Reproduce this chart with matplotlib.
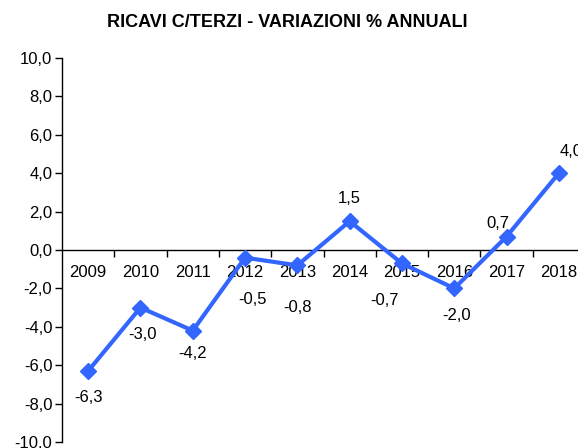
import matplotlib.pyplot as plt
from matplotlib.ticker import FixedLocator, FuncFormatter

plt.rcParams['font.family'] = ['Liberation Sans', 'DejaVu Sans']

# data
years = ['2009', '2010', '2011', '2012', '2013', '2014', '2015', '2016', '2017', '2018']
values = [-6.3, -3.0, -4.2, -0.4, -0.8, 1.5, -0.7, -2.0, 0.7, 4.0]
labels = ['-6,3', '-3,0', '-4,2', '-0,5', '-0,8', '1,5', '-0,7', '-2,0', '0,7', '4,0']
# label offsets in pixels (dx, dy)
offsets = [(0, -27), (2, -27), (0, -23), (7, -42), (0, -42),
           (0, 23), (-17, -37), (2, -27), (-9, 13), (12, 22)]

fig = plt.figure(figsize=(5.78, 4.48), dpi=100)
ax = fig.add_axes([62 / 578, 1 - 442 / 448, 523 / 578, 384 / 448])

x = list(range(len(years)))
ax.plot(x, values, color='#3366FF', lw=3, marker='D', ms=8.5, clip_on=False, zorder=3)

for xi, v, lab, (dx, dy) in zip(x, values, labels, offsets):
    ax.annotate(lab, (xi, v), xytext=(dx, dy), textcoords='offset pixels',
                ha='center', va='center', fontsize=12)

ax.set_xlim(-0.5, 9.5)
ax.set_ylim(-10, 10)
ax.set_yticks([-10, -8, -6, -4, -2, 0, 2, 4, 6, 8, 10])
ax.yaxis.set_major_formatter(FuncFormatter(lambda v, p: f'{v:.1f}'.replace('.', ',')))
ax.tick_params(axis='y', length=5, width=1, labelsize=12, pad=2)

ax.set_xticks(x)
ax.set_xticklabels(years)
ax.xaxis.set_minor_locator(FixedLocator([i + 0.5 for i in range(9)]))
ax.tick_params(axis='x', which='major', length=0, pad=11, labelsize=12)
ax.tick_params(axis='x', which='minor', length=5, width=1, direction='out')

ax.spines['bottom'].set_position(('data', 0))
ax.spines['top'].set_visible(False)
ax.spines['right'].set_visible(False)
for s in ('left', 'bottom'):
    ax.spines[s].set_linewidth(1)

fig.text(0.497, 0.95, 'RICAVI C/TERZI - VARIAZIONI % ANNUALI', ha='center', va='center',
         fontsize=13, fontweight='bold')

fig.savefig('out.png', dpi=100)
